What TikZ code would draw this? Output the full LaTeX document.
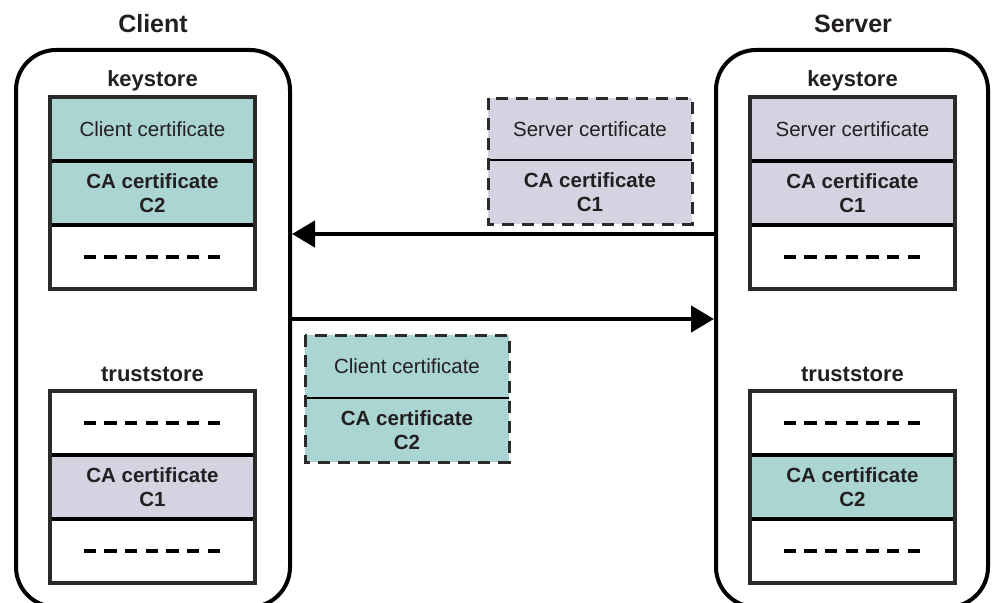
\documentclass[tikz,border=0pt]{standalone}
\usepackage{fontspec}
\setmainfont{Liberation Sans}
\usetikzlibrary{arrows.meta}
\definecolor{tealc}{HTML}{AAD5D3}
\definecolor{lav}{HTML}{D4D3E2}
\definecolor{ink}{HTML}{231F20}
\definecolor{frame}{HTML}{2A2A2A}
\begin{document}
\begin{tikzpicture}[x=1pt,y=-1pt,
  every node/.style={text=ink, font=\fontsize{20.5}{24}\selectfont},
  host/.style={draw=black, line width=4pt, rounded corners=40pt, minimum height=557pt, inner sep=0pt},
  title/.style={font=\fontsize{25}{30}\selectfont\bfseries, anchor=base},
  storelabel/.style={font=\fontsize{22}{26}\selectfont\bfseries, anchor=base},
  row/.style={minimum width=205pt, minimum height=64pt, inner sep=0pt, outer sep=0pt, align=center},
  pkt/.style={minimum width=204pt, inner sep=0pt, outer sep=0pt, align=center},
  storeframe/.style={draw=frame, line width=3.5pt},
  divider/.style={draw=black, line width=4.5pt},
  pktframe/.style={draw=frame, line width=3pt, dash pattern=on 12pt off 8pt},
  pktdiv/.style={draw=black, line width=2pt},
  dashrow/.style={draw=black, line width=3.3pt, dash pattern=on 12.3pt off 8.4pt},
  msg/.style={draw=black, line width=4.5pt, -{Triangle[length=23pt,width=26pt]}},
  bx/.style={font=\fontsize{20.5}{24}\selectfont\bfseries}
]
\useasboundingbox (0,0) rectangle (992,602);
\clip (0,0) rectangle (992,602);

% hosts
\node[host, minimum width=274pt] (client) at (153,328.5) {};
\node[host, minimum width=272pt] (server) at (852,328.5) {};
\node[title] (tclient) at (153,33) {Client};
\node[title] (tserver) at (853,33) {Server};

% labels
\node[storelabel] (lck) at (152.5,86) {keystore};
\node[storelabel] (lct) at (152.5,381) {truststore};
\node[storelabel] (lsk) at (852.5,86) {keystore};
\node[storelabel] (lst) at (852.5,381) {truststore};

% client keystore
\node[row, fill=tealc] (ck1) at (152.5,129) {Client certificate};
\node[row, fill=tealc] (ck2) at (152.5,193) {\bfseries CA certificate\\\bfseries C2};
\node[row, fill=white] (ck3) at (152.5,257) {};
% client truststore
\node[row, fill=white] (ct1) at (152.5,423) {};
\node[row, fill=lav] (ct2) at (152.5,487) {\bfseries CA certificate\\\bfseries C1};
\node[row, fill=white] (ct3) at (152.5,551) {};
% server keystore
\node[row, fill=lav] (sk1) at (852.5,129) {Server certificate};
\node[row, fill=lav] (sk2) at (852.5,193) {\bfseries CA certificate\\\bfseries C1};
\node[row, fill=white] (sk3) at (852.5,257) {};
% server truststore
\node[row, fill=white] (st1) at (852.5,423) {};
\node[row, fill=tealc] (st2) at (852.5,487) {\bfseries CA certificate\\\bfseries C2};
\node[row, fill=white] (st3) at (852.5,551) {};

\foreach \a/\b/\c in {ck1/ck2/ck3, ct1/ct2/ct3, sk1/sk2/sk3, st1/st2/st3}{
  \draw[divider] (\a.south west) -- (\a.south east);
  \draw[divider] (\b.south west) -- (\b.south east);
  \draw[storeframe] (\a.north west) rectangle (\c.south east);
}
\foreach \r in {ck3, ct1, ct3, sk3, st1, st3}{
  \draw[dashrow] ([xshift=-69pt]\r.center) -- ([xshift=69pt]\r.center);
}

% packets in transit
\node[pkt, fill=lav, minimum height=62pt] (ps1) at (590,129) {Server certificate};
\node[pkt, fill=lav, minimum height=64pt] (ps2) at (590,192) {\bfseries CA certificate\\\bfseries C1};
\draw[pktdiv] (ps1.south west) -- (ps1.south east);
\draw[pktframe] (ps1.north west) rectangle (ps2.south east);

\node[pkt, fill=tealc, minimum height=63pt] (pc1) at (407,366.5) {Client certificate};
\node[pkt, fill=tealc, minimum height=64pt] (pc2) at (407,430) {\bfseries CA certificate\\\bfseries C2};
\draw[pktdiv] (pc1.south west) -- (pc1.south east);
\draw[pktframe] (pc1.north west) rectangle (pc2.south east);

% messages
\coordinate (m1) at (0,234);
\coordinate (m2) at (0,319);
\draw[msg] (server.west |- m1) -- (client.east |- m1);
\draw[msg] (client.east |- m2) -- (server.west |- m2);
\end{tikzpicture}
\end{document}
